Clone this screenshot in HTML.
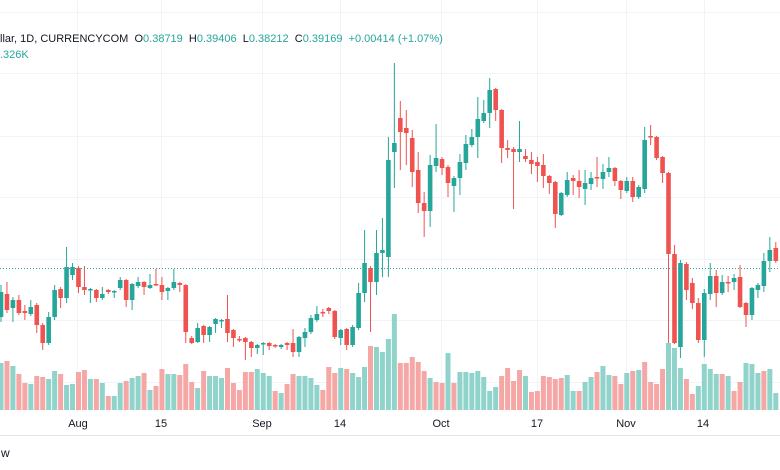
<!DOCTYPE html>
<html><head><meta charset="utf-8"><style>
html,body{margin:0;padding:0;background:#fff;}
body{width:780px;height:470px;overflow:hidden;position:relative;font-family:"Liberation Sans",sans-serif;}
svg{position:absolute;left:0;top:0;}
</style></head><body>
<svg id="c" width="780" height="470" xmlns="http://www.w3.org/2000/svg">
<g stroke="#f0f3fa" stroke-width="1">
<line x1="0" y1="12.5" x2="780" y2="12.5"/><line x1="0" y1="73.5" x2="780" y2="73.5"/><line x1="0" y1="136.5" x2="780" y2="136.5"/><line x1="0" y1="197.5" x2="780" y2="197.5"/><line x1="0" y1="259.5" x2="780" y2="259.5"/><line x1="0" y1="320.5" x2="780" y2="320.5"/><line x1="0" y1="382.5" x2="780" y2="382.5"/>
<line x1="77.5" y1="0" x2="77.5" y2="412"/><line x1="161.5" y1="0" x2="161.5" y2="412"/><line x1="262.5" y1="0" x2="262.5" y2="412"/><line x1="340.5" y1="0" x2="340.5" y2="412"/><line x1="441.5" y1="0" x2="441.5" y2="412"/><line x1="537.5" y1="0" x2="537.5" y2="412"/><line x1="626.5" y1="0" x2="626.5" y2="412"/><line x1="704.5" y1="0" x2="704.5" y2="412"/>
</g>
<line x1="0" y1="435.5" x2="780" y2="435.5" stroke="#e0e3eb"/>
<g id="vol"></g><g id="cd"></g>
<line x1="0" y1="268.5" x2="780" y2="268.5" stroke="#26a69a" stroke-width="1" stroke-dasharray="1,2"/>
<g font-size="11" fill="#131722" text-anchor="middle">
<text x="78" y="427">Aug</text><text x="161" y="427">15</text><text x="262" y="427">Sep</text><text x="340" y="427">14</text><text x="441" y="427">Oct</text><text x="537" y="427">17</text><text x="626" y="427">Nov</text><text x="703" y="427">14</text>
</g>
<text x="1" y="457" font-size="12" fill="#131722">w</text>
<text x="0" y="42" font-size="11" fill="#131722" xml:space="preserve">llar, 1D, CURRENCYCOM  O<tspan fill="#26a69a">0.38719</tspan>  H<tspan fill="#26a69a">0.39406</tspan>  L<tspan fill="#26a69a">0.38212</tspan>  C<tspan fill="#26a69a">0.39169</tspan>  <tspan fill="#26a69a">+0.00414 (+1.07%)</tspan></text>
<text x="0" y="58" font-size="11" fill="#26a69a">.326K</text>
</svg>
<script>
var D=`g 292 317 285 322
r 294 310 282 313
g 300 308 297 322
r 300 313 295 315
r 311 313 305 320
g 307 314 300 316
r 305 325 303 333
r 325 343 323 350
g 317 343 312 345
g 290 317 285 320
r 289 298 287 308
g 267 298 247 303
g 267 275 263 280
r 268 287 266 293
r 287 290 266 295
g 289 290 288 303
r 290 298 289 302
g 294 298 287 300
r 290 292 289 294
g 291 292 290 298
g 280 288 277 290
r 280 300 279 307
g 284 300 283 310
g 282 286 277 288
r 282 287 281 295
g 285 288 274 289
r 284 285 269 286
r 285 292 277 300
g 288 291 287 300
g 282 288 269 290
r 283 285 282 292
r 285 332 284 343
r 338 343 336 344
g 328 342 323 343
r 326 335 325 343
g 327 335 326 342
g 319 324 318 333
g 320 321 319 328
r 319 333 295 342
r 330 338 329 347
r 339 340 336 342
r 338 342 337 360
r 342 348 341 357
g 345 348 344 354
g 343 344 342 355
r 343 346 342 350
r 345 346 344 348
g 345 347 344 349
r 343 345 342 350
r 343 352 329 357
g 337 352 336 357
g 332 338 328 347
g 318 332 315 334
g 314 320 306 322
r 312 313 309 317
r 308 311 307 314
r 311 337 310 339
g 330 338 329 345
r 329 345 328 350
g 327 345 325 347
g 293 328 283 330
g 263 293 230 302
r 268 282 266 332
g 253 282 230 295
g 250 253 218 277
g 160 257 137 277
g 143 152 63 188
r 118 132 101 170
r 128 133 110 165
r 138 172 130 187
r 170 203 152 213
r 203 211 192 237
g 165 211 155 227
g 158 166 124 172
r 159 168 157 175
r 167 183 165 197
g 178 186 176 212
g 162 178 154 195
g 144 163 135 170
g 137 145 129 147
g 119 137 97 158
g 113 121 100 123
g 90 113 78 128
r 89 110 88 121
r 110 148 109 163
r 148 150 140 158
r 149 152 147 209
g 149 152 121 162
r 156 159 149 162
r 160 164 152 174
r 162 166 157 182
r 165 176 154 188
r 176 183 175 194
r 182 214 181 228
g 193 215 192 216
g 180 195 172 197
r 178 181 175 195
r 181 187 170 198
g 183 189 170 205
g 178 184 172 190
r 177 178 157 187
g 172 179 164 189
g 168 172 157 177
r 168 181 167 186
r 181 190 180 199
g 181 191 177 193
r 181 197 177 202
g 187 197 185 199
g 140 189 127 193
r 136 137 125 145
r 137 158 136 160
r 157 173 156 183
r 173 254 172 343
r 254 343 245 344
g 263 347 260 358
r 264 290 262 300
r 283 303 278 309
r 303 340 298 343
g 293 340 289 357
g 276 294 263 300
r 276 293 270 307
g 282 293 275 295
r 282 283 276 292
g 278 282 274 290
r 277 307 265 308
r 303 315 302 327
g 288 315 287 320
g 285 290 283 298
g 261 286 253 292
g 250 261 237 272
r 248 261 242 263`.split("\n");
var VT=[363,361,366,374,383,384,376,377,379,371,374,385,384,372,370,379,379,383,396,396,383,381,378,376,373,390,386,369,374,374,375,364,382,388,371,376,376,378,368,383,390,372,372,369,373,376,391,393,384,374,376,376,378,385,390,367,373,368,369,373,377,367,346,347,
352,339,314,363,363,357,362,371,378,382,383,353,383,372,372,373,371,377,391,387,376,368,381,370,376,392,391,376,377,379,378,375,391,391,382,377,372,366,375,376,384,373,371,370,362,382,384,369,343,348,368,379,394,386,364,369,374,374,376,391,382,363,364,373,371,369,393];
var VC="grgrrgrrgg"+"rggrrgrgrg"+"grggrgrrgg"+"rrrgrgggrr"+"rrrgggrgrr"+"ggggrrrgrg"+"ggrg"+
"gggrrrrrgr"+"rgrggggggg"+"rrrrgrrrrr"+"rggrggrggr"+"rgrgrrrrgg"+"grrgggg"+"rgrrggg"+"r";
var ns="http://www.w3.org/2000/svg",cd=document.getElementById("cd"),vol=document.getElementById("vol");
function el(p,tag,a){var e=document.createElementNS(ns,tag);for(var k in a)e.setAttribute(k,a[k]);p.appendChild(e);}
for(var i=0;i<VT.length;i++){var x=1+i*5.96;var c=VC[i]=="r"?"#f5a7a5":"#90d3cb";
el(vol,"rect",{x:(x-2.5).toFixed(2),y:VT[i],width:5,height:410-VT[i],fill:c});}
D.forEach(function(l,i){var p=l.trim().split(/\s+/);var x=1+i*5.96;var c=p[0]=="r"?"#ef5350":"#26a69a";
var t=+p[1],b=+p[2],h=+p[3],lo=+p[4];if(b-t<1.5)b=t+1.5;
el(cd,"rect",{x:(x-0.5).toFixed(2),y:h,width:1,height:lo-h,fill:c});
el(cd,"rect",{x:(x-2.3).toFixed(2),y:t,width:4.6,height:b-t,fill:c});});
</script>
</body></html>
